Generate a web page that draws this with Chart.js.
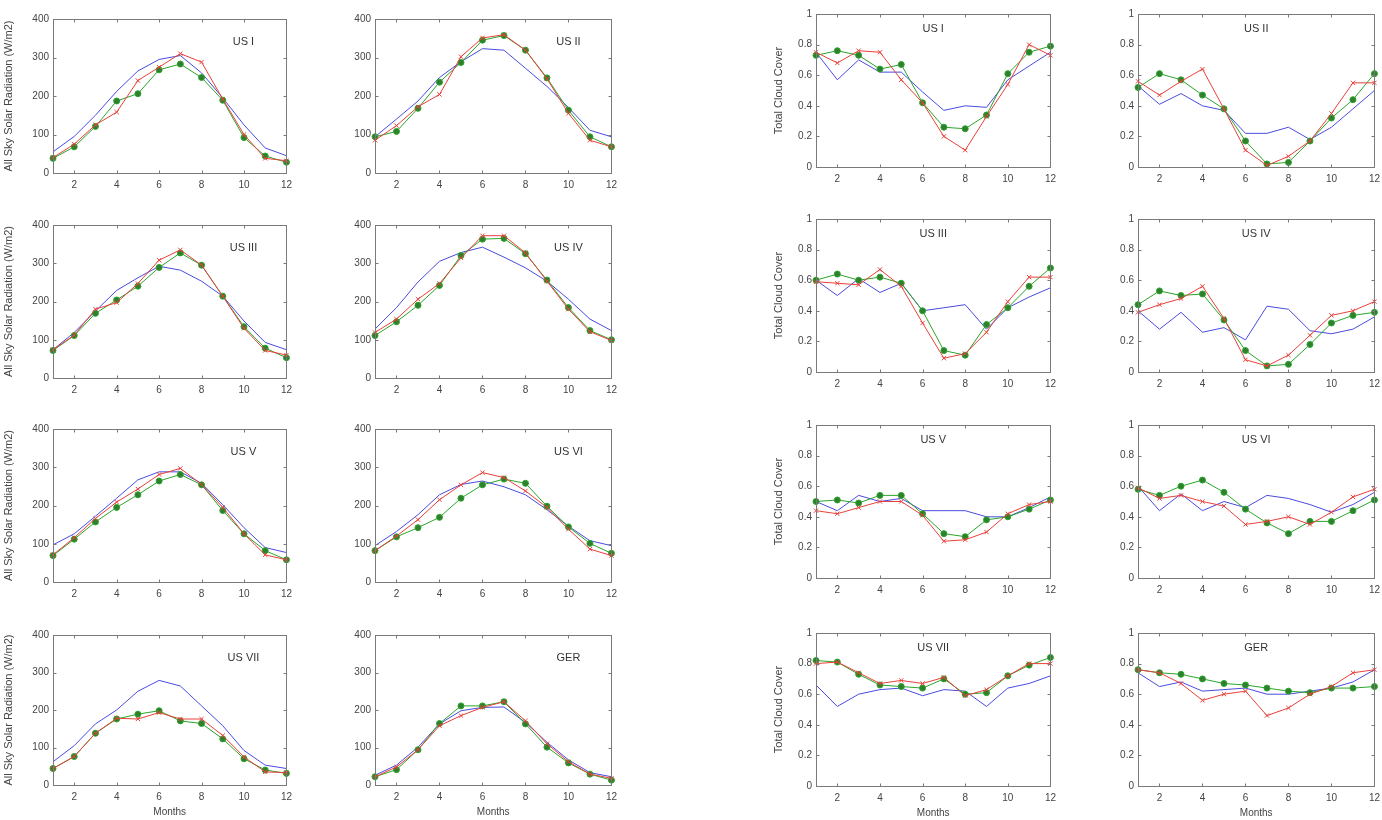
<!DOCTYPE html>
<html>
<head>
<meta charset="utf-8">
<script src="https://cdn.jsdelivr.net/npm/chart.js@4.4.0/dist/chart.umd.min.js"></script>
<style>
  body { margin: 0; background: #fff; width: 1382px; height: 820px; overflow: hidden; position: relative; }
  canvas { position: absolute; }
</style>
</head>
<body>
<script>
// --- DATA ---
const months = [1, 2, 3, 4, 5, 6, 7, 8, 9, 10, 11, 12];
const monthTicks = [2, 4, 6, 8, 10, 12];
const solarTicks = [0, 100, 200, 300, 400];
const cloudTicks = [0, 0.2, 0.4, 0.6, 0.8, 1];
const stations = ['US I', 'US II', 'US III', 'US IV', 'US V', 'US VI', 'US VII', 'GER'];

// all sky solar radiation (W/m2), one row per station
const solarBlue = [
  [55, 95, 150, 212, 265, 295, 305, 260, 195, 125, 65, 45],
  [94, 140, 187, 248, 289, 323, 319, 272, 225, 170, 111, 94],
  [74, 119, 175, 229, 262, 292, 282, 253, 214, 149, 93, 74],
  [128, 184, 251, 305, 328, 342, 316, 288, 253, 206, 154, 124],
  [97, 126, 172, 219, 267, 288, 288, 258, 202, 142, 90, 77],
  [95, 132, 176, 228, 255, 264, 249, 228, 189, 146, 108, 95],
  [62, 105, 163, 200, 250, 279, 264, 211, 158, 92, 53, 44],
  [26, 53, 101, 163, 198, 207, 208, 167, 114, 67, 33, 22]
];
const solarRed = [
  [40, 75, 125, 158, 240, 275, 310, 288, 192, 100, 38, 32],
  [85, 123, 172, 204, 302, 351, 359, 319, 245, 155, 85, 68],
  [74, 112, 180, 197, 247, 308, 335, 295, 214, 130, 72, 60],
  [119, 154, 206, 247, 314, 372, 372, 327, 253, 180, 121, 98],
  [71, 116, 166, 209, 243, 281, 297, 255, 195, 126, 71, 58],
  [82, 120, 163, 215, 254, 286, 273, 238, 195, 138, 86, 69],
  [44, 76, 138, 178, 176, 193, 176, 176, 132, 75, 35, 33],
  [22, 48, 94, 158, 185, 207, 222, 171, 110, 62, 29, 18]
];
const solarGreen = [
  [38, 68, 121, 187, 206, 268, 283, 248, 189, 92, 44, 28],
  [94, 108, 168, 236, 287, 345, 357, 319, 247, 163, 94, 68],
  [72, 111, 169, 204, 240, 289, 327, 295, 214, 134, 78, 53],
  [111, 147, 190, 242, 320, 363, 365, 325, 256, 184, 124, 100],
  [69, 112, 157, 195, 228, 264, 281, 254, 187, 126, 82, 58],
  [82, 118, 142, 169, 219, 254, 269, 258, 198, 144, 101, 75],
  [44, 76, 138, 176, 189, 198, 171, 164, 123, 70, 40, 31],
  [22, 41, 94, 164, 211, 211, 222, 163, 101, 59, 29, 13]
];

// total cloud cover (fraction), one row per station
const cloudBlue = [
  [0.75, 0.57, 0.70, 0.62, 0.62, 0.49, 0.37, 0.40, 0.39, 0.57, 0.66, 0.75],
  [0.53, 0.41, 0.48, 0.40, 0.37, 0.22, 0.22, 0.26, 0.18, 0.26, 0.38, 0.50],
  [0.60, 0.50, 0.61, 0.52, 0.58, 0.40, 0.42, 0.44, 0.28, 0.42, 0.49, 0.55],
  [0.40, 0.28, 0.39, 0.26, 0.29, 0.21, 0.43, 0.41, 0.27, 0.25, 0.28, 0.36],
  [0.50, 0.44, 0.54, 0.50, 0.52, 0.44, 0.44, 0.44, 0.40, 0.40, 0.46, 0.53],
  [0.60, 0.44, 0.55, 0.44, 0.50, 0.46, 0.54, 0.52, 0.48, 0.43, 0.48, 0.56],
  [0.66, 0.52, 0.60, 0.63, 0.64, 0.59, 0.63, 0.62, 0.52, 0.64, 0.67, 0.72],
  [0.74, 0.65, 0.68, 0.62, 0.63, 0.64, 0.60, 0.60, 0.62, 0.64, 0.68, 0.76]
];
const cloudRed = [
  [0.75, 0.68, 0.76, 0.75, 0.57, 0.42, 0.20, 0.11, 0.33, 0.54, 0.80, 0.73],
  [0.56, 0.47, 0.56, 0.64, 0.38, 0.11, 0.01, 0.07, 0.17, 0.35, 0.55, 0.55],
  [0.59, 0.58, 0.57, 0.67, 0.56, 0.32, 0.09, 0.12, 0.26, 0.46, 0.62, 0.62],
  [0.39, 0.44, 0.48, 0.56, 0.35, 0.08, 0.04, 0.11, 0.24, 0.37, 0.40, 0.46],
  [0.44, 0.42, 0.46, 0.50, 0.50, 0.41, 0.24, 0.25, 0.30, 0.42, 0.48, 0.50],
  [0.59, 0.52, 0.54, 0.50, 0.47, 0.35, 0.37, 0.40, 0.35, 0.43, 0.53, 0.58],
  [0.80, 0.81, 0.74, 0.67, 0.69, 0.67, 0.71, 0.59, 0.63, 0.72, 0.80, 0.80],
  [0.76, 0.74, 0.67, 0.56, 0.60, 0.62, 0.46, 0.51, 0.60, 0.65, 0.74, 0.76]
];
const cloudGreen = [
  [0.73, 0.76, 0.73, 0.64, 0.67, 0.42, 0.26, 0.25, 0.34, 0.61, 0.75, 0.79],
  [0.52, 0.61, 0.57, 0.47, 0.38, 0.17, 0.02, 0.03, 0.17, 0.32, 0.44, 0.61],
  [0.60, 0.64, 0.60, 0.62, 0.58, 0.40, 0.14, 0.11, 0.31, 0.42, 0.56, 0.68],
  [0.44, 0.53, 0.50, 0.51, 0.34, 0.14, 0.04, 0.05, 0.18, 0.32, 0.37, 0.39],
  [0.50, 0.51, 0.49, 0.54, 0.54, 0.42, 0.29, 0.27, 0.38, 0.40, 0.45, 0.51],
  [0.58, 0.54, 0.60, 0.64, 0.56, 0.45, 0.36, 0.29, 0.37, 0.37, 0.44, 0.51],
  [0.82, 0.81, 0.73, 0.66, 0.65, 0.64, 0.70, 0.60, 0.61, 0.72, 0.79, 0.84],
  [0.76, 0.74, 0.73, 0.70, 0.67, 0.66, 0.64, 0.62, 0.61, 0.64, 0.64, 0.65]
];

// --- LAYOUT (plot area edges in page pixels) ---
const solarCols = [[53, 288], [375, 613]];
const solarRows = [[17, 173], [223, 378], [427, 582], [633, 785]];
const cloudCols = [[816, 1052], [1138, 1376]];
const cloudRows = [[12, 167], [217, 372], [423, 578], [631, 786]];

Chart.defaults.font.family = '"Liberation Sans", Arial, sans-serif';
Chart.defaults.font.size = 10;
Chart.defaults.color = '#444';
Chart.defaults.animation = false;

// box round the plot, inward ticks on all four sides, station name inside
const framePlugin = {
  id: 'frame',
  afterDraw(chart, args, opts) {
    const { ctx, chartArea: a, scales: { x, y } } = chart;
    const L = Math.round(a.left) + 0.5, R = Math.round(a.right) + 0.5;
    const T = Math.round(a.top) + 0.5, B = Math.round(a.bottom) + 0.5;
    ctx.save();
    ctx.strokeStyle = '#7a7a7a';
    ctx.lineWidth = 1;
    ctx.strokeRect(L, T, R - L, B - T);
    ctx.beginPath();
    x.ticks.forEach(t => {
      const px = Math.round(x.getPixelForValue(t.value)) + 0.5;
      ctx.moveTo(px, B); ctx.lineTo(px, B - 3);
      ctx.moveTo(px, T); ctx.lineTo(px, T + 3);
    });
    y.ticks.forEach(t => {
      const py = Math.round(y.getPixelForValue(t.value)) + 0.5;
      ctx.moveTo(L, py); ctx.lineTo(L + 3, py);
      ctx.moveTo(R, py); ctx.lineTo(R - 3, py);
    });
    ctx.stroke();
    ctx.fillStyle = '#333';
    ctx.font = '11px "Liberation Sans", Arial, sans-serif';
    ctx.textAlign = 'center';
    ctx.textBaseline = 'middle';
    const tx = opts.centered ? (a.left + a.right) / 2 : a.right - 43;
    const ty = a.top + (opts.centered ? 15 : 23);
    ctx.fillText(opts.text, tx, ty);
    ctx.restore();
  }
};

function makePanel(rect, cfg) {
  const padL = cfg.yTitle ? (cfg.cloud ? 46 : 53) : 30;
  const padR = 10, padT = 8;
  const padB = cfg.xTitle ? 35 : 18;
  const w = rect.right - rect.left + padL + padR;
  const h = rect.bottom - rect.top + padT + padB;

  const canvas = document.createElement('canvas');
  canvas.width = w;
  canvas.height = h;
  canvas.style.left = (rect.left - padL) + 'px';
  canvas.style.top = (rect.top - padT) + 'px';
  document.body.appendChild(canvas);

  const pts = arr => months.map((m, i) => ({ x: m, y: arr[i] }));
  const yTicks = cfg.cloud ? cloudTicks : solarTicks;

  new Chart(canvas, {
    type: 'line',
    data: {
      datasets: [
        {
          data: pts(cfg.red), borderColor: '#e8403a', borderWidth: 1,
          pointStyle: 'crossRot', pointRadius: 3, pointBorderColor: '#e8403a', pointBorderWidth: 1,
          clip: false
        },
        {
          data: pts(cfg.green), borderColor: '#2aa52a', borderWidth: 1,
          pointStyle: 'circle', pointRadius: 3, pointBackgroundColor: '#2f7f2f',
          pointBorderColor: '#2aa52a', pointBorderWidth: 1, clip: false
        },
        {
          data: pts(cfg.blue), borderColor: '#4a4ae0', borderWidth: 1,
          pointRadius: 0, clip: false
        }
      ]
    },
    options: {
      responsive: false,
      devicePixelRatio: 1,
      layout: { padding: { top: padT, right: padR, left: 0, bottom: 0 } },
      plugins: {
        legend: { display: false },
        tooltip: { enabled: false },
        frame: { text: cfg.title, centered: cfg.cloud }
      },
      scales: {
        x: {
          type: 'linear', min: 1, max: 12,
          grid: { display: false, drawTicks: false },
          border: { display: false },
          afterBuildTicks: s => { s.ticks = monthTicks.map(v => ({ value: v })); },
          afterFit: s => { s.height = padB; },
          ticks: { padding: 6, maxRotation: 0 },
          title: { display: !!cfg.xTitle, text: 'Months', padding: { top: 0, bottom: 2 } }
        },
        y: {
          type: 'linear', min: 0, max: cfg.cloud ? 1 : 400,
          grid: { display: false, drawTicks: false },
          border: { display: false },
          afterBuildTicks: s => { s.ticks = yTicks.map(v => ({ value: v })); },
          afterFit: s => { s.width = padL; },
          ticks: {
            padding: 4,
            callback: v => cfg.cloud ? String(Math.round(v * 10) / 10) : String(v)
          },
          title: {
            display: !!cfg.yTitle,
            text: cfg.cloud ? 'Total Cloud Cover' : 'All Sky Solar Radiation (W/m2)',
            font: { size: 11 },
            padding: { top: 2, bottom: 0 }
          }
        }
      }
    },
    plugins: [framePlugin]
  });
}

stations.forEach((name, i) => {
  const row = Math.floor(i / 2), col = i % 2;
  makePanel(
    { left: solarCols[col][0], right: solarCols[col][1], top: solarRows[row][0], bottom: solarRows[row][1] },
    { title: name, cloud: false, yTitle: col === 0, xTitle: row === 3,
      blue: solarBlue[i], red: solarRed[i], green: solarGreen[i] }
  );
  makePanel(
    { left: cloudCols[col][0], right: cloudCols[col][1], top: cloudRows[row][0], bottom: cloudRows[row][1] },
    { title: name, cloud: true, yTitle: col === 0, xTitle: row === 3,
      blue: cloudBlue[i], red: cloudRed[i], green: cloudGreen[i] }
  );
});
</script>
</body>
</html>
